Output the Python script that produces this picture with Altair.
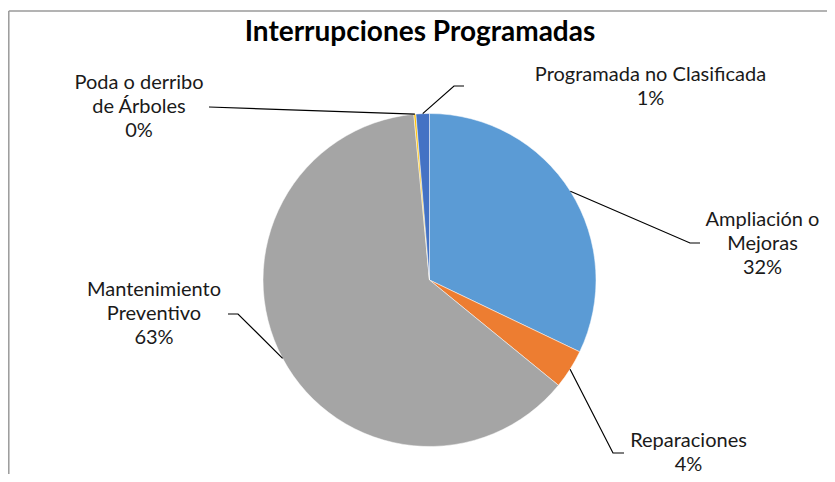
import math
import altair as alt
import pandas as pd

# ---- data ----
categories = ["Ampliación o Mejoras", "Reparaciones", "Mantenimiento Preventivo",
              "Poda o derribo de Árboles", "Programada no Clasificada"]
values = [32.1, 3.8, 62.6, 0.2, 1.3]
display_names = ["Ampliación o\nMejoras", "Reparaciones", "Mantenimiento\nPreventivo",
                 "Poda o derribo\nde Árboles", "Programada no Clasificada"]
title_text = "Interrupciones Programadas"

# ---- style / layout (chart pixel coordinates) ----
colors = ["#5B9BD5", "#ED7D31", "#A5A5A5", "#FFC000", "#4472C4"]
PAD_L = 4
W, H = 815, 466
CX, CY, R = 417.5, 272.0, 166.5
FONT = "Lato"
label_pos = [(750.5, 212), (676.5, 433), (142, 282), (127, 75), (638.5, 67)]
elbow_pos = [(678, 235), (601, 445), (226, 306), (197, 99), (442, 78)]
end_pos = [(688, 235), (612, 445), (216, 306), (197, 99), (452, 78)]

total = sum(values)
pie_df = pd.DataFrame({"name": categories, "value": values, "order": list(range(len(values)))})

line_rows = []
label_rows = []
cum = 0.0
for i, (c, v) in enumerate(zip(categories, values)):
    mid = (cum + v / 2) / total * 2 * math.pi
    cum += v
    sx = CX + R * math.sin(mid)
    sy = CY - R * math.cos(mid)
    pts = [(sx, sy), elbow_pos[i], end_pos[i]]
    for k, (px, py) in enumerate(pts):
        line_rows.append({"name": c, "seq": k, "px": px, "py": py})
    label_rows.append({"name": c, "lx": label_pos[i][0], "ly": label_pos[i][1],
                       "label": f"{display_names[i]}\n{round(v)}%"})
line_df = pd.DataFrame(line_rows)
label_df = pd.DataFrame(label_rows)

one = pd.DataFrame({"t": [title_text]})

frame_left = alt.Chart(one).mark_rule(color="#9a9a9a", strokeWidth=1.5).encode(
    x=alt.value(-3.2), y=alt.value(3), y2=alt.value(H + 20))
frame_top = alt.Chart(one).mark_rule(color="#9a9a9a", strokeWidth=1.5).encode(
    x=alt.value(-3.2), x2=alt.value(W + 20), y=alt.value(3))

arcs = alt.Chart(pie_df).mark_arc(outerRadius=R, stroke="white", strokeWidth=0.5).encode(
    theta=alt.Theta("value:Q", stack=True),
    order=alt.Order("order:Q"),
    color=alt.Color("name:N", scale=alt.Scale(domain=categories, range=colors), legend=None),
    x=alt.value(CX), y=alt.value(CY),
)

lines = alt.Chart(line_df).mark_line(color="black", strokeWidth=1.2).encode(
    x=alt.X("px:Q", scale=None, axis=None),
    y=alt.Y("py:Q", scale=None, axis=None),
    detail="name:N",
    order="seq:Q",
)

labels = alt.Chart(label_df).mark_text(
    font=FONT, fontSize=20, lineBreak="\n", lineHeight=24,
    align="center", baseline="middle", color="#1a1a1a").encode(
    x=alt.X("lx:Q", scale=None, axis=None),
    y=alt.Y("ly:Q", scale=None, axis=None),
    text="label:N",
)

title = alt.Chart(one).mark_text(
    font=FONT, fontSize=28, fontWeight="bold", align="center", baseline="middle",
    color="#000000").encode(x=alt.value(408), y=alt.value(25), text="t:N")

chart = alt.layer(frame_left, frame_top, arcs, lines, labels, title).properties(
    width=W, height=H, autosize="none",
    padding={"left": PAD_L, "top": 0, "right": 0, "bottom": 0}
).configure_view(stroke=None)

chart.save("out.html", embed_options={"renderer": "svg", "actions": False})
